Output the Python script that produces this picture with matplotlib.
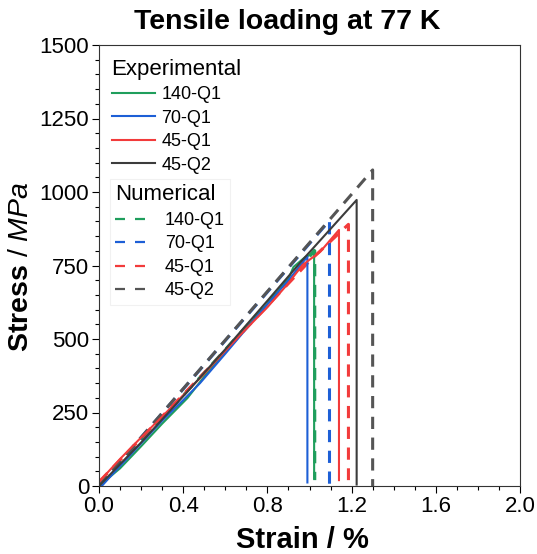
import matplotlib
matplotlib.use('Agg')
import matplotlib.pyplot as plt
from matplotlib.lines import Line2D
from matplotlib.ticker import MultipleLocator

plt.rcParams['font.family'] = ['Liberation Sans', 'DejaVu Sans']
plt.rcParams['mathtext.fontset'] = 'custom'
plt.rcParams['mathtext.rm'] = 'Liberation Sans'
plt.rcParams['mathtext.it'] = 'Liberation Sans:italic'
plt.rcParams['mathtext.bf'] = 'Liberation Sans:bold'

# Experimental curves (strain %, stress MPa)
exp_140q1_strain = [0.0, 0.1, 0.2, 0.3, 0.42, 0.5, 0.6, 0.7, 0.8, 0.9, 0.924, 0.98, 1.0, 1.022, 1.022]
exp_140q1_stress = [0, 60, 135, 212, 299, 372, 455, 538, 620, 705, 745, 779, 785, 803, 25]

exp_70q1_strain = [0.013, 0.1, 0.2, 0.3, 0.4, 0.48, 0.6, 0.7, 0.8, 0.9, 0.99, 0.99]
exp_70q1_stress = [0, 68, 145, 222, 292, 350, 450, 535, 618, 700, 780, 12]

exp_45q1_strain = [0.0, 0.1, 0.2, 0.3, 0.48, 0.6, 0.7, 0.8, 0.9, 0.967, 1.05, 1.14, 1.14]
exp_45q1_stress = [14, 92, 165, 236, 367, 460, 535, 608, 690, 752, 796, 871, 20]

exp_45q2_strain = [0.0, 0.2, 0.4, 0.6, 0.8, 0.967, 1.224, 1.224]
exp_45q2_stress = [0, 148, 305, 465, 630, 769, 973, 5]

# Numerical curves
num_140q1_strain = [0.0, 0.5, 1.025, 1.025]
num_140q1_stress = [0, 385, 800, 20]

num_70q1_strain = [0.0, 1.095, 1.095]
num_70q1_stress = [0, 903, 0]

num_45q1_strain = [0.0, 0.5, 1.0, 1.185, 1.185]
num_45q1_stress = [14, 385, 765, 890, 20]

num_45q2_strain = [0.0, 1.30, 1.30]
num_45q2_stress = [0, 1075, 0]

labels = ['140-Q1', '70-Q1', '45-Q1', '45-Q2']
colors = ['#1f9e5c', '#1d5fd6', '#f23b3b', '#3c3c3c']
num_colors = ['#1f9e5c', '#1d5fd6', '#f23b3b', '#555555']

exp_data = [(exp_140q1_strain, exp_140q1_stress), (exp_70q1_strain, exp_70q1_stress),
            (exp_45q1_strain, exp_45q1_stress), (exp_45q2_strain, exp_45q2_stress)]
num_data = [(num_140q1_strain, num_140q1_stress), (num_70q1_strain, num_70q1_stress),
            (num_45q1_strain, num_45q1_stress), (num_45q2_strain, num_45q2_stress)]

W, H = 537, 554
fig = plt.figure(figsize=(W / 100, H / 100), dpi=100)
ax = fig.add_axes([99 / W, 1 - 486 / H, (520 - 99) / W, (486 - 45) / H])

for (x, y), c in zip(num_data, num_colors):
    ax.plot(x, y, color=c, lw=2.2, dashes=(4, 2.8))
for (x, y), c in zip(exp_data, colors):
    ax.plot(x, y, color=c, lw=1.5)

ax.set_xlim(0, 2.0)
ax.set_ylim(0, 1500)
ax.xaxis.set_major_locator(MultipleLocator(0.4))
ax.xaxis.set_minor_locator(MultipleLocator(0.1))
ax.yaxis.set_major_locator(MultipleLocator(250))
ax.yaxis.set_minor_locator(MultipleLocator(50))
ax.xaxis.set_major_formatter(plt.FuncFormatter(lambda v, p: f'{v:.1f}'))
ax.tick_params(which='major', direction='out', length=5, width=0.8, labelsize=16, pad=2)
ax.tick_params(which='minor', direction='out', length=3, width=0.8)
for s in ax.spines.values():
    s.set_linewidth(0.8)
    s.set_color('#333333')

fig.text(287 / W, 1 - 22 / H, 'Tensile loading at 77 K', ha='center', va='center',
         fontsize=20.5, fontweight='bold')
fig.text(302 / W, 1 - 540 / H, 'Strain / %', ha='center', va='center',
         fontsize=21, fontweight='bold')
fig.text(21 / W, 1 - 267 / H, r'$\mathbf{Stress}$ / $\mathit{MPa}$', ha='center', va='center',
         rotation=90, fontsize=20.5)

exp_handles = [Line2D([], [], color=c, lw=1.5) for c in colors]
num_handles = [Line2D([], [], color=c, lw=1.6, dashes=(4.5, 4.5)) for c in num_colors]

leg1 = ax.legend(exp_handles, labels, title='Experimental', loc='upper left',
                 bbox_to_anchor=(108 / W, 1 - 55 / H), bbox_transform=fig.transFigure,
                 frameon=False, fontsize=13, title_fontsize=16, alignment='left',
                 handlelength=2.4, handletextpad=0.35, labelspacing=0.36, borderpad=0.2,
                 borderaxespad=0)
ax.add_artist(leg1)
leg2 = ax.legend(num_handles, labels, title='Numerical', loc='upper left',
                 bbox_to_anchor=(110 / W, 1 - 179 / H), bbox_transform=fig.transFigure,
                 frameon=True, fancybox=False, edgecolor='#eeeeee', fontsize=13,
                 title_fontsize=16, alignment='left', handlelength=1.9,
                 handletextpad=0.85, labelspacing=0.36, borderpad=0.3, borderaxespad=0)
leg2.get_frame().set_linewidth(0.8)

fig.savefig('out.png', dpi=100)
